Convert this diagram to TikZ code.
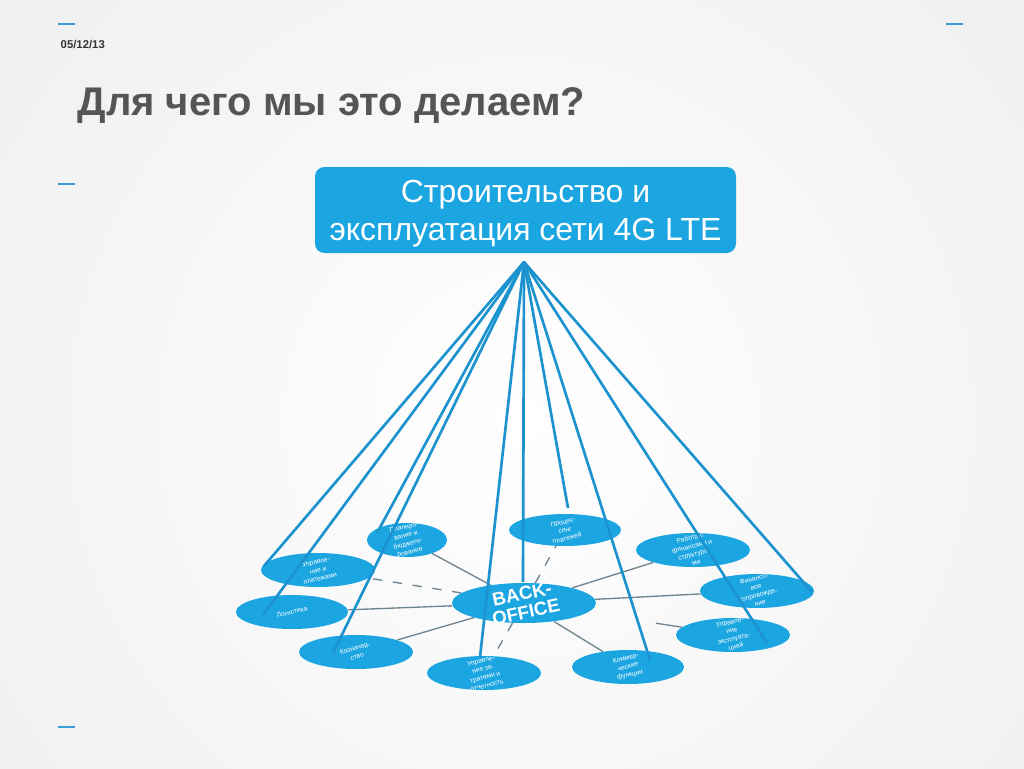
\documentclass[tikz,border=0pt]{standalone}
\usepackage{fontspec}
\setmainfont{Liberation Sans}
\usetikzlibrary{shapes.geometric}
\pgfdeclarelayer{back}
\pgfsetlayers{back,main}
\definecolor{bg}{HTML}{EAEAEA}
\definecolor{lteblue}{HTML}{1BA5E1}
\definecolor{linkblue}{HTML}{1C93CF}
\definecolor{spokegray}{HTML}{6F8390}
\definecolor{titlegray}{HTML}{555555}
\definecolor{tickblue}{HTML}{3A9FD0}
\begin{document}
\begin{tikzpicture}[x=0.75pt,y=-0.75pt,
  bubble/.style={ellipse,fill=lteblue,minimum width=85.5pt,minimum height=25.5pt,inner sep=0pt},
  btext/.style={text=white,font=\fontsize{5}{6.3}\selectfont,align=center,rotate=14,inner sep=0pt},
  link/.style={draw=linkblue,line width=2pt},
  spk/.style={draw=spokegray,line width=1pt},
  spkd/.style={spk,dash pattern=on 7pt off 8pt},
  tickline/.style={draw=tickblue,line width=1.1pt}]
\useasboundingbox (0,0) rectangle (1024,768);
\begin{pgfonlayer}{back}
\fill[bg] (0,0) rectangle (1024,768);
\begin{scope}
\clip (0,0) rectangle (1024,768);
\shade[inner color=white,outer color=bg] (520,420) circle (900);
\end{scope}
\end{pgfonlayer}

% corner ticks
\draw[tickline] (58,24) -- (75,24);
\draw[tickline] (946,24) -- (963,24);
\draw[tickline] (58,184) -- (75,184);
\draw[tickline] (58,727) -- (75,727);

\node[anchor=west,font=\fontsize{8.5}{8.5}\selectfont\bfseries,text=black!80] (date) at (56,45) {05/12/13};
\node[anchor=west,font=\fontsize{30}{30}\selectfont\bfseries,text=titlegray] (title) at (73,106) {Для чего мы это делаем?};

\node[fill=lteblue,rounded corners=7pt,minimum width=315.75pt,minimum height=64.5pt,inner sep=0pt] (top) at (525.5,210) {};
\node[text=white,align=center,font=\fontsize{24}{28.5}\selectfont,inner sep=0pt] (toptext) at (525.5,214)
      {Строительство и\\эксплуатация сети 4G LTE};

\coordinate (apex) at (524,262);

% bubbles
\node[bubble] (e1) at (318,570) {};
\node[bubble,minimum width=60pt] (e2) at (407,540) {};
\node[bubble,minimum width=84pt,minimum height=24pt] (e3) at (565,530) {};
\node[bubble] (e4) at (693,550) {};
\node[bubble] (e5) at (757,591) {};
\node[bubble] (e6) at (733,635) {};
\node[bubble,minimum width=84pt] (e7) at (628,667) {};
\node[bubble] (e8) at (484,673) {};
\node[bubble] (e9) at (356,652) {};
\node[bubble,minimum width=84pt] (e10) at (292,612) {};
\node[bubble,minimum width=108pt,minimum height=30pt] (bo) at (524,603) {};

% spokes (behind bubbles)
\begin{pgfonlayer}{back}
\draw[spkd] (bo) -- (e1);
\draw[spk] (bo) -- (e2);
\draw[spkd] (bo) -- (e3);
\draw[spk] (bo) -- (e4);
\draw[spk] (bo) -- (e5);
\draw[spk,shorten <=52pt] (bo) -- (e6);
\draw[spk] (bo) -- (e7);
\draw[spkd] (bo) -- (e8);
\draw[spk] (bo) -- (e9);
\draw[spk] (bo) -- (e10);
\end{pgfonlayer}

% bubble texts
\node[btext] (t1) at (e1) {Управле-\\ние и\\платежами};
\node[btext] (t2) at (e2) {Планиро-\\вание и\\бюджети-\\рование};
\node[btext] (t3) at (e3) {Процес-\\синг\\платежей};
\node[btext] (t4) at (e4) {Работа с\\финансами и\\структура-\\ми};
\node[btext] (t5) at (e5) {Финансо-\\вое\\сопровожде-\\ние};
\node[btext] (t6) at (e6) {Управле-\\ние\\эксплуата-\\цией};
\node[btext] (t7) at (e7) {Коммер-\\ческие\\функции};
\node[btext] (t8) at (e8) {Управле-\\ние за-\\тратами и\\отчетность};
\node[btext] (t9) at (e9) {Казначей-\\ство};
\node[btext] (t10) at (e10) {Логистика};
\node[text=white,font=\fontsize{14}{14}\selectfont\bfseries,align=center,rotate=12,inner sep=0pt] (tbo) at (bo) {BACK-\\OFFICE};

% link end points
\coordinate (p1) at (264,566);
\coordinate (p2) at (263,615);
\coordinate (p3) at (333,653);
\coordinate (p4) at (377,533);
\coordinate (p5) at (480,657);
\coordinate (p6) at (523,582);
\coordinate (p7) at (568,508);
\coordinate (p8) at (650,660);
\coordinate (p9) at (767,643);
\coordinate (p10) at (812,592);
\foreach \i in {1,...,10} {\draw[link] (apex) -- (p\i);}
\end{tikzpicture}
\end{document}
